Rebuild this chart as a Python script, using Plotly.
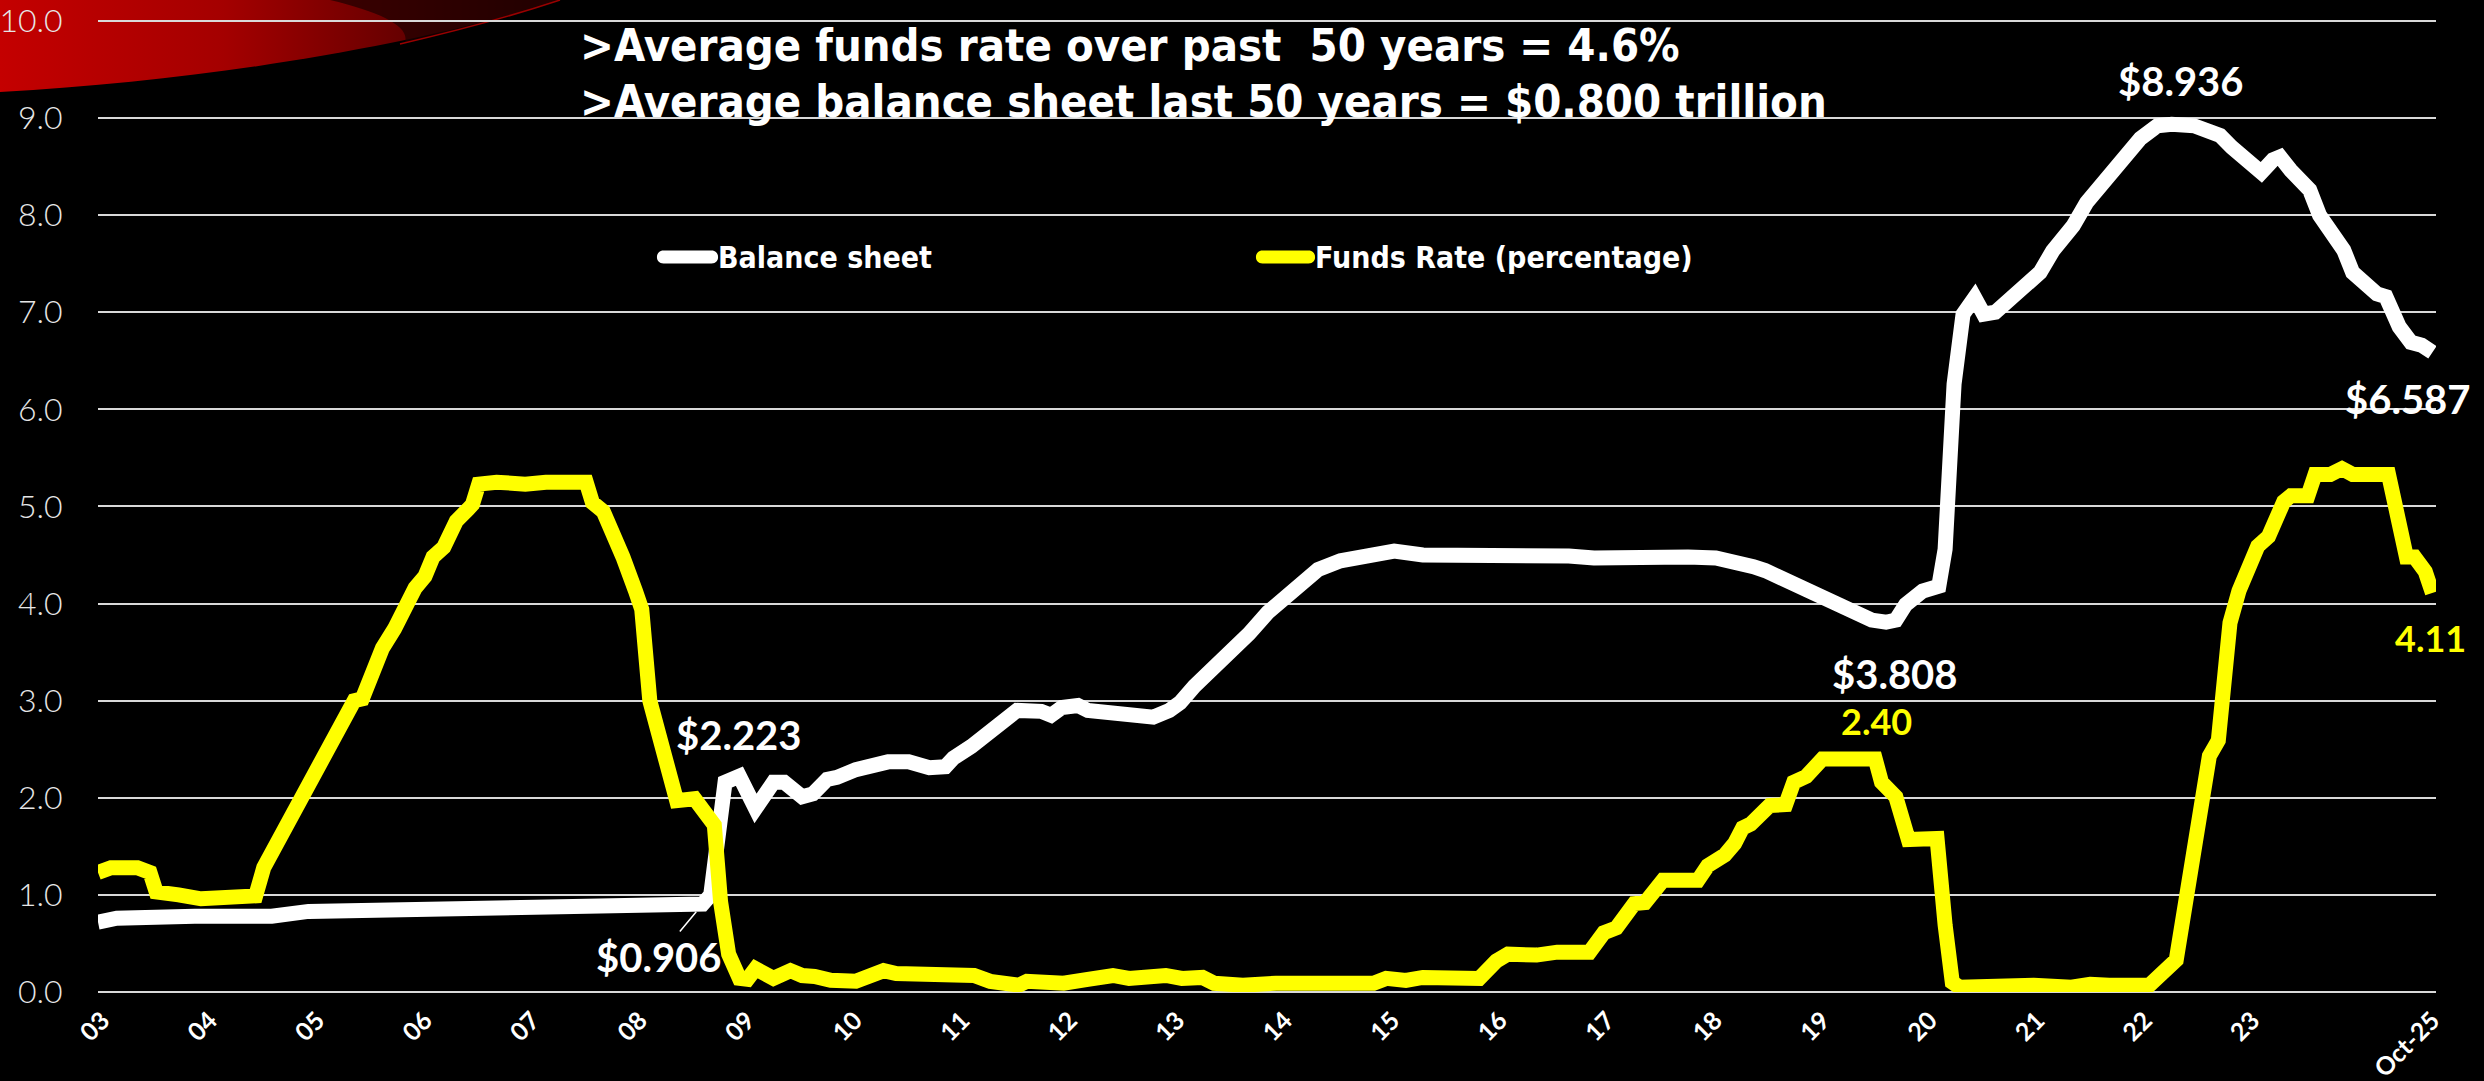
import base64
import plotly.graph_objects as go

# ---- data -----------------------------------------------------------------
# Horizontal position is a month slot along the category axis (0 = start of 2003).
# Fed balance sheet, $ trillions
bs_pos = [0, 2.1, 10.8, 19.4, 23.5, 35.4, 44.1, 55.0, 60.0, 67.5, 68.4, 69.3, 70.0,
          71.6, 73.4, 75.4, 76.6, 78.6, 79.8, 81.4, 82.5, 84.6, 85.7, 88.2, 90.5,
          92.8, 94.6, 95.5, 97.5, 99.6, 101.4, 102.6, 105.3, 106.4, 107.6, 109.4,
          110.5, 112.8, 114.4, 116.7, 117.8, 119.6, 120.8, 122.4, 124.6, 125.8,
          127.2, 128.5, 130.6, 132.0, 133.3, 134.9, 136.2, 138.7, 140.6, 141.9,
          144.7, 147.9, 150.1, 153.3, 159.2, 160.6, 164.2, 167.0, 171.5, 177.5,
          180.6, 183.4, 184.8, 186.1, 187.5, 189.3, 191.6, 193.9, 195.2, 196.6,
          198.0, 199.6, 200.7, 201.8, 203.7, 205.5, 206.2, 207.2, 208.2, 209.5,
          210.5, 211.8, 213.2, 214.9, 215.9, 216.8, 218.2, 219.5, 220.5, 222.0,
          223.2, 225.3, 226.5, 228.0, 229.9, 231.5, 234.0, 236.9, 238.2, 239.8,
          241.5, 242.8, 243.6, 244.8, 246.9, 248.0, 249.0, 250.7, 251.7, 253.2,
          254.4, 255.4, 256.9, 258.2, 259.4, 260.6]
bs_tn = [0.72, 0.76, 0.78, 0.78, 0.83, 0.86, 0.86, 0.89, 0.89, 0.906, 1.00, 1.77, 2.16,
         2.223, 1.89, 2.16, 2.16, 2.01, 2.04, 2.19, 2.21, 2.29, 2.31, 2.37, 2.37,
         2.31, 2.32, 2.41, 2.53, 2.70, 2.84, 2.90, 2.89, 2.85, 2.93, 2.95,
         2.90, 2.87, 2.88, 2.82, 2.83, 2.90, 2.98, 3.15, 3.34, 3.44,
         3.59, 3.69, 3.91, 4.03, 4.13, 4.26, 4.35, 4.44, 4.47, 4.52,
         4.54, 4.50, 4.50, 4.52, 4.51, 4.49, 4.49, 4.47, 4.49, 4.48,
         4.47, 4.43, 4.38, 4.34, 4.28, 4.22, 4.12, 4.01, 3.96, 3.88,
         3.83, 3.808, 3.83, 3.99, 4.13, 4.18, 4.56, 6.26, 6.98, 7.15,
         6.98, 7.00, 7.11, 7.25, 7.36, 7.41, 7.63, 7.78, 7.89, 8.13,
         8.26, 8.50, 8.66, 8.79, 8.92, 8.936, 8.92, 8.82, 8.70, 8.59,
         8.44, 8.57, 8.60, 8.46, 8.26, 8.00, 7.87, 7.64, 7.41, 7.28,
         7.19, 7.16, 6.85, 6.69, 6.66, 6.587]

# Effective fed funds rate, percent
ff_pos = [0, 1.45, 4.4, 5.8, 6.5, 7.6, 9.0, 11.5, 13.5, 17.6, 18.5, 19.9, 22.0, 23.1,
          24.5, 25.4, 27.2, 28.6, 29.5, 30.8, 31.75, 33.1, 34.3, 35.4, 36.5, 37.4,
          38.6, 40.0, 41.3, 41.8, 42.5, 44.5, 47.7, 50.0, 54.5, 55.2, 56.4, 57.7,
          58.6, 60.0, 60.7, 61.6, 62.7, 64.6, 66.6, 67.7, 68.8, 69.5, 70.4, 71.6,
          72.5, 73.4, 75.4, 77.3, 78.6, 80.0, 81.8, 84.6, 85.9, 87.7, 89.1, 94.1,
          97.8, 99.6, 101.9, 102.8, 103.7, 106.0, 107.8, 110.5, 113.3, 115.1,
          119.2, 121.0, 123.3, 124.6, 127.8, 131.5, 136.9, 142.4, 143.8, 146.0,
          147.9, 152.4, 154.2, 156.1, 157.4, 160.6, 162.9, 166.5, 168.1, 169.5,
          171.5, 172.7, 174.7, 178.6, 179.7, 181.6, 182.7, 183.6, 184.5, 186.6,
          188.4, 189.3, 190.7, 192.5, 195.2, 197.1, 198.4, 199.1, 200.7, 202.1,
          203.9, 205.3, 206.2, 207.0, 207.8, 211.1, 216.1, 220.3, 222.4, 224.5,
          229.0, 232.0, 234.4, 235.7, 236.7, 238.0, 239.0, 241.1, 242.3, 244.0,
          244.8, 246.7, 247.5, 249.2, 250.5, 251.7, 255.7, 256.9, 257.7, 258.6,
          259.8, 260.6]
ff_pct = [1.23, 1.28, 1.28, 1.23, 1.03, 1.03, 1.00, 0.96, 0.98, 0.99, 1.28, 1.52, 1.87, 2.11,
          2.29, 2.51, 2.75, 3.00, 3.02, 3.39, 3.54, 3.74, 4.01, 4.16, 4.28, 4.48,
          4.58, 4.85, 4.97, 5.02, 5.23, 5.25, 5.23, 5.25, 5.25, 5.04, 4.95, 4.72,
          4.48, 4.13, 3.94, 3.00, 2.56, 1.97, 1.99, 1.85, 1.72, 0.93, 0.39, 0.14,
          0.13, 0.24, 0.14, 0.22, 0.17, 0.16, 0.12, 0.11, 0.14, 0.22, 0.19, 0.20,
          0.17, 0.11, 0.09, 0.07, 0.11, 0.09, 0.09, 0.13, 0.17, 0.14,
          0.17, 0.14, 0.15, 0.09, 0.07, 0.09, 0.09, 0.09, 0.14, 0.12,
          0.15, 0.17, 0.14, 0.32, 0.39, 0.38, 0.41, 0.41, 0.61, 0.66,
          0.91, 0.92, 1.15, 1.15, 1.30, 1.41, 1.53, 1.69, 1.73, 1.92,
          1.93, 2.16, 2.22, 2.40, 2.41, 2.38, 2.40, 2.16, 2.01, 1.57,
          1.56, 1.58, 0.69, 0.10, 0.05, 0.07, 0.07, 0.05, 0.08, 0.07,
          0.07, 0.33, 1.67, 2.43, 2.59, 3.80, 4.13, 4.59, 4.69, 5.05,
          5.11, 5.11, 5.33, 5.33, 5.39, 5.33, 5.33, 4.83, 4.48, 4.48,
          4.33, 4.11]

year_labels = ["03", "04", "05", "06", "07", "08", "09", "10", "11", "12", "13",
               "14", "15", "16", "17", "18", "19", "20", "21", "22", "23"]
last_label = "Oct-25"

series_names = ["Balance sheet", "Funds Rate (percentage)"]

title_lines = [">Average funds rate over past\u00a0 50 years = 4.6%",
               ">Average balance sheet last 50 years = $0.800 trillion"]

# ---- layout geometry (pixels) ----------------------------------------------
W, H = 2484, 1081
ML, MR, MT, MB = 98, 48, 19, 89
PW, PH = W - ML - MR, H - MT - MB
Y_TOP = 10.02   # a hair above 10 so the top gridline is kept


def px(xp):
    return (xp - ML) / PW


def py(yp):
    return (H - MB - yp) / PH


WHITE = "#ffffff"
YELLOW = "#ffff00"
GRID = "#d9d9d9"
NARROW = "Liberation Sans Narrow, DejaVu Sans Condensed, Roboto Condensed, Roboto, sans-serif"
GEO = "Lato, Roboto, sans-serif"
LW = 15

fig = go.Figure()
fig.add_trace(go.Scatter(x=bs_pos, y=bs_tn, mode="lines", name=series_names[0],
                         line=dict(color=WHITE, width=LW), showlegend=False))
fig.add_trace(go.Scatter(x=ff_pos, y=ff_pct, mode="lines", name=series_names[1],
                         line=dict(color=YELLOW, width=LW), showlegend=False))

tick_vals = [0.5 + 12 * k for k in range(len(year_labels))] + [bs_pos[-1]]

fig.update_xaxes(range=[0, 261], tickmode="array", tickvals=tick_vals,
                 ticktext=year_labels + [last_label], tickangle=-45, automargin=False,
                 tickfont=dict(family=GEO, size=25, color=WHITE, weight="bold"),
                 ticks="outside", ticklen=3, tickcolor="rgba(0,0,0,0)",
                 showgrid=False, zeroline=False, showline=False)
fig.update_yaxes(range=[0, Y_TOP], tickvals=list(range(11)), tickformat=".1f", automargin=False,
                 tickfont=dict(family=GEO, size=32, color="#e6e6e6", weight=300),
                 ticks="outside", ticklen=28, tickcolor="rgba(0,0,0,0)",
                 showgrid=True, gridcolor=GRID, gridwidth=2,
                 zeroline=True, zerolinecolor=GRID, zerolinewidth=2, showline=False)

# red swoosh in the top-left corner
swoosh = """<svg xmlns='http://www.w3.org/2000/svg' width='600' height='130' viewBox='0 0 600 130'>
<defs><linearGradient id='g' x1='0' y1='0' x2='1' y2='0'>
<stop offset='0' stop-color='#c40000'/><stop offset='0.4' stop-color='#a40000'/>
<stop offset='0.7' stop-color='#6a0000'/><stop offset='1' stop-color='#2a0000'/>
</linearGradient></defs>
<path d='M0,0 L560,0 C430,42 220,80 0,92 Z' fill='url(#g)'/>
<path d='M330,0 L560,0 C505,17 455,31 405,42 C410,26 380,12 330,0 Z' fill='#1c0000' opacity='0.7'/>
<path d='M400,44 C460,30 515,15 560,0' stroke='#9a0000' stroke-width='1.5' fill='none'/>
</svg>"""
fig.add_layout_image(source="data:image/svg+xml;base64," + base64.b64encode(swoosh.encode()).decode(),
                     xref="paper", yref="paper", x=px(0), y=py(0), sizex=600 / PW, sizey=130 / PH,
                     xanchor="left", yanchor="top", sizing="stretch", layer="below")

# headline text
for line, yc in zip(title_lines, [46, 101]):
    fig.add_annotation(text=line, xref="paper", yref="paper", x=px(578), y=py(yc),
                       xanchor="left", yanchor="middle", showarrow=False,
                       font=dict(family=NARROW, size=45, color=WHITE, weight="bold"))

# legend: thick rounded swatch followed by the series name
def pill(x0, x1, yc, h):
    r = h / 2
    return (f"M{x0 + r},{yc - r} L{x1 - r},{yc - r} C{x1 + r * 0.35},{yc - r} {x1 + r * 0.35},{yc + r} {x1 - r},{yc + r} "
            f"L{x0 + r},{yc + r} C{x0 - r * 0.35},{yc + r} {x0 - r * 0.35},{yc - r} {x0 + r},{yc - r} Z")


for name, color, x0, x1 in [(series_names[0], WHITE, 657, 718), (series_names[1], YELLOW, 1256, 1315)]:
    fig.add_shape(type="path", xref="paper", yref="paper", xsizemode="pixel", ysizemode="pixel",
                  xanchor=px(0), yanchor=py(0),
                  path=pill(x0, x1, -257, 13),
                  fillcolor=color, line=dict(width=0))
    fig.add_annotation(text=name, xref="paper", yref="paper", x=px(x1 - 2), y=py(257),
                       xanchor="left", yanchor="middle", showarrow=False,
                       font=dict(family=NARROW, size=30, color=WHITE, weight="bold"))

# value call-outs, text built from the plotted values
def callout(xv, yv, text, color, dx, dy, size=40):
    fig.add_annotation(x=xv, y=yv, text=text, showarrow=False, xshift=dx, yshift=dy,
                       font=dict(family=GEO, size=size, color=color, weight="bold"))


i_lo = bs_tn.index(0.906)
fig.add_annotation(x=bs_pos[i_lo], y=bs_tn[i_lo], text=f"${bs_tn[i_lo]:.3f}",
                   showarrow=True, arrowhead=0, arrowwidth=1.5, arrowcolor=WHITE,
                   ax=-44, ay=53, standoff=10, xanchor="center", yanchor="middle",
                   font=dict(family=GEO, size=40, color=WHITE, weight="bold"))
i = bs_tn.index(2.223)
callout(bs_pos[i], bs_tn[i], f"${bs_tn[i]:.3f}", WHITE, 0, 41)
i = bs_tn.index(3.808)
callout(bs_pos[i], bs_tn[i], f"${bs_tn[i]:.3f}", WHITE, 9, -52)
i = bs_tn.index(max(bs_tn))
callout(bs_pos[i], bs_tn[i], f"${bs_tn[i]:.3f}", WHITE, 9, 43)
callout(bs_pos[-1], bs_tn[-1], f"${bs_tn[-1]:.3f}", WHITE, -24, -47)
i = ff_pct.index(2.40)
callout(ff_pos[i], ff_pct[i], f"{ff_pct[i]:.2f}", YELLOW, 54, 38, size=36)
callout(ff_pos[-1], ff_pct[-1], f"{ff_pct[-1]:.2f}", YELLOW, -2, -45, size=36)

fig.update_layout(
    width=W, height=H, margin=dict(l=ML, r=MR, t=MT, b=MB),
    paper_bgcolor="#000000", plot_bgcolor="rgba(0,0,0,0)",
    showlegend=False,
)

fig.write_html("out.html")
